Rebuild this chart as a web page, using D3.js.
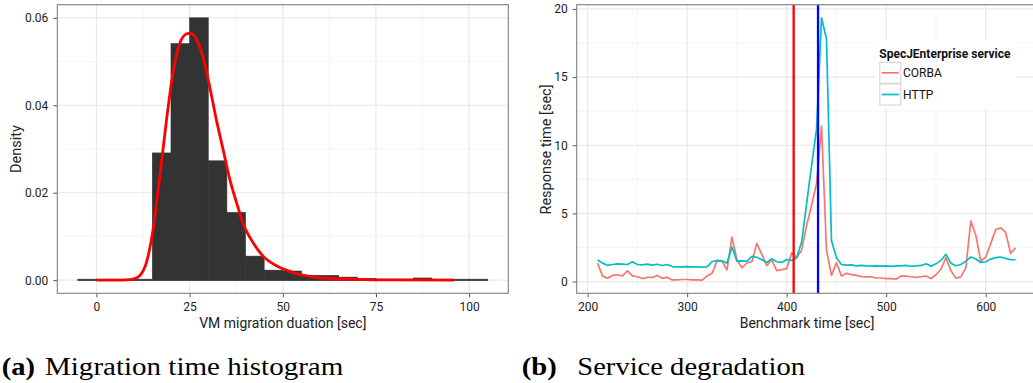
<!DOCTYPE html>
<html>
<head>
<meta charset="utf-8">
<script src="https://cdnjs.cloudflare.com/ajax/libs/d3/7.8.5/d3.min.js"></script>
<style>
  html, body { margin: 0; padding: 0; background: #fff; }
  svg { display: block; }
  .tick text { fill: #222; }
</style>
</head>
<body>
<script>
// ---------- (a) migration time histogram ----------
const binStarts = [-5, 0, 5, 10, 15, 20, 25, 30, 35, 40, 45, 50, 55, 60, 65, 70, 75, 80, 85, 90, 95, 100];
const binDensity = [0, 0, 0, 0, 0.0291, 0.0541, 0.0600, 0.0273, 0.0155, 0.0055, 0.0023, 0.0021,
                    0.0011, 0.0011, 0.0007, 0.0004, 0.0002, 0.0002, 0.0005, 0.0002, 0.0002, 0];
const binWidth = 5;

// fitted density curve, sampled along the duration axis
const fitX = [0, 5, 8, 10, 11.6, 13.4, 15.2, 17, 18.8, 20.5, 22.3, 24.1, 25.2, 26.8, 28.6, 30.4,
              32.2, 34, 35.8, 37.6, 39.3, 42, 44.7, 48.3, 51.9, 55, 60.4, 69.3, 80, 96];
const fitY = [0, 0, 0.00005, 0.0003, 0.001, 0.004, 0.0116, 0.0237, 0.0366, 0.0472, 0.054, 0.0563,
              0.0565, 0.0552, 0.051, 0.0442, 0.0366, 0.0298, 0.023, 0.0177, 0.0131, 0.0086, 0.0055,
              0.0033, 0.002, 0.0012, 0.0005, 0.0002, 0.00005, 0];

const histXTicks = [0, 25, 50, 75, 100];
const histXMinor = [12.5, 37.5, 62.5, 87.5];
const histYTicks = [0, 0.02, 0.04, 0.06];
const histYMinor = [0.01, 0.03, 0.05];

// ---------- (b) service degradation ----------
const benchTime = [210, 215, 220, 225, 230, 235, 240, 245, 250, 255, 260, 265, 270, 275, 280, 285,
  290, 295, 300, 305, 310, 315, 320, 325, 330, 335, 340, 345, 350, 355, 360, 365, 370, 375, 380,
  385, 390, 395, 400, 405, 410, 415, 420, 425, 430, 435, 440, 445, 450, 455, 460, 465, 470, 475,
  480, 485, 490, 495, 500, 505, 510, 515, 520, 525, 530, 535, 540, 545, 550, 555, 560, 565, 570,
  575, 580, 585, 590, 595, 600, 605, 610, 615, 620, 625, 630];
const corba = [1.34, 0.40, 0.25, 0.45, 0.50, 0.42, 0.78, 0.42, 0.35, 0.22, 0.30, 0.30, 0.45, 0.25,
  0.30, 0.12, 0.12, 0.15, 0.15, 0.12, 0.12, 0.10, 0.40, 0.60, 1.50, 1.50, 0.85, 3.26, 1.60, 1.00,
  1.36, 1.45, 2.80, 2.00, 1.17, 1.58, 0.80, 0.88, 0.95, 2.10, 1.75, 2.30, 4.10, 5.60, 7.20, 11.40,
  2.30, 0.45, 1.39, 0.41, 0.60, 0.51, 0.45, 0.36, 0.34, 0.34, 0.26, 0.26, 0.22, 0.22, 0.18, 0.40,
  0.40, 0.35, 0.30, 0.35, 0.40, 0.22, 0.50, 0.90, 1.75, 0.80, 0.25, 0.34, 1.00, 4.45, 3.40, 1.50,
  1.80, 2.78, 3.82, 3.94, 3.60, 2.07, 2.48];
const http = [1.58, 1.35, 1.19, 1.25, 1.30, 1.28, 1.25, 1.45, 1.25, 1.22, 1.28, 1.20, 1.27, 1.18,
  1.25, 1.10, 1.07, 1.08, 1.10, 1.07, 1.08, 1.06, 1.07, 1.45, 1.55, 1.52, 1.35, 2.53, 1.50, 1.52,
  1.48, 1.85, 1.78, 1.60, 1.40, 1.68, 1.45, 1.40, 1.62, 1.55, 1.75, 2.90, 5.70, 8.50, 11.20, 19.35,
  17.80, 3.00, 1.75, 1.25, 1.20, 1.22, 1.15, 1.18, 1.15, 1.13, 1.15, 1.13, 1.15, 1.12, 1.15, 1.15,
  1.18, 1.12, 1.15, 1.18, 1.30, 1.13, 1.30, 1.55, 2.00, 1.35, 1.16, 1.25, 1.50, 1.80, 1.65, 1.40,
  1.45, 1.65, 1.75, 1.80, 1.70, 1.60, 1.60];
const serviceNames = ["CORBA", "HTTP"];
const serviceColors = ["#F8766D", "#00BFC4"];
const migrationMarks = [407, 431.5];
const markColors = ["#FF0000", "#0000FF"];

const benchXTicks = [200, 300, 400, 500, 600];
const benchXMinor = [250, 350, 450, 550, 650];
const benchYTicks = [0, 5, 10, 15, 20];
const benchYMinor = [2.5, 7.5, 12.5, 17.5];

const FONT = "Roboto, 'Liberation Sans', Arial, sans-serif";
const SERIF = "'Liberation Serif', 'DejaVu Serif', serif";

const svg = d3.select("body").append("svg")
  .attr("width", 1033).attr("height", 383)
  .style("font-family", FONT);

// ggplot-style domain expansion (5% on each side)
function expand(lo, hi) {
  const pad = (hi - lo) * 0.05;
  return [lo - pad, hi + pad];
}

function panel(opts) {
  const { x, y, left, right, top, bottom, xTicks, xMinor, yTicks, yMinor, yFormat, id } = opts;
  const g = svg.append("g");
  g.append("clipPath").attr("id", id).append("rect")
    .attr("x", left).attr("y", top).attr("width", right - left).attr("height", bottom - top);
  g.append("rect").attr("x", left).attr("y", top).attr("width", right - left)
    .attr("height", bottom - top).attr("fill", "#fff");
  const grid = g.append("g").attr("clip-path", `url(#${id})`);
  grid.selectAll(".vminor").data(xMinor).join("line")
    .attr("x1", d => x(d)).attr("x2", d => x(d)).attr("y1", top).attr("y2", bottom)
    .attr("stroke", "#F5F5F5").attr("stroke-width", 1);
  grid.selectAll(".hminor").data(yMinor).join("line")
    .attr("y1", d => y(d)).attr("y2", d => y(d)).attr("x1", left).attr("x2", right)
    .attr("stroke", "#F5F5F5").attr("stroke-width", 1);
  grid.selectAll(".vmajor").data(xTicks).join("line")
    .attr("x1", d => x(d)).attr("x2", d => x(d)).attr("y1", top).attr("y2", bottom)
    .attr("stroke", "#E8E8E8").attr("stroke-width", 1.2);
  grid.selectAll(".hmajor").data(yTicks).join("line")
    .attr("y1", d => y(d)).attr("y2", d => y(d)).attr("x1", left).attr("x2", right)
    .attr("stroke", "#E8E8E8").attr("stroke-width", 1.2);

  const xa = g.append("g").attr("transform", `translate(0,${bottom})`)
    .call(d3.axisBottom(x).tickValues(xTicks).tickSize(4).tickPadding(5.5).tickSizeOuter(0));
  const ya = g.append("g").attr("transform", `translate(${left},0)`)
    .call(d3.axisLeft(y).tickValues(yTicks).tickFormat(yFormat).tickSize(4).tickPadding(5).tickSizeOuter(0));
  [xa, ya].forEach(a => {
    a.select(".domain").remove();
    a.selectAll(".tick line").attr("stroke", "#555");
    a.selectAll(".tick text").style("font-size", "12px").style("font-family", FONT);
  });
  const plot = g.append("g").attr("clip-path", `url(#${id})`);
  const border = () => g.append("rect").attr("x", left).attr("y", top)
    .attr("width", right - left).attr("height", bottom - top)
    .attr("fill", "none").attr("stroke", "#7F7F7F").attr("stroke-width", 1.1);
  return { g, plot, border };
}

// ----- panel (a) -----
const hx = d3.scaleLinear().domain(expand(binStarts[0], binStarts[binStarts.length - 1] + binWidth))
  .range([57.3, 508.3]);
const hy = d3.scaleLinear().domain(expand(0, d3.max(binDensity))).range([293.3, 4.7]);
const pa = panel({ x: hx, y: hy, left: 57.3, right: 508.3, top: 4.7, bottom: 293.3,
  xTicks: histXTicks, xMinor: histXMinor, yTicks: histYTicks, yMinor: histYMinor,
  yFormat: d3.format(".2f"), id: "clipA" });

pa.plot.selectAll("rect.bar").data(binStarts).join("rect").attr("class", "bar")
  .attr("x", d => hx(d))
  .attr("width", d => hx(d + binWidth) - hx(d))
  .attr("y", (d, i) => Math.min(hy(binDensity[i]), hy(0) - 1))
  .attr("height", (d, i) => Math.max(hy(0) - hy(binDensity[i]), 1) + 0.5)
  .attr("fill", "#333333").attr("stroke", "#333333").attr("stroke-width", 0.6);

pa.plot.append("path")
  .datum(fitX.map((v, i) => [v, fitY[i]]))
  .attr("fill", "none").attr("stroke", "#FF0000").attr("stroke-width", 2.8)
  .attr("stroke-linejoin", "round")
  .attr("d", d3.line().x(d => hx(d[0])).y(d => hy(d[1])).curve(d3.curveMonotoneX));
pa.border();

svg.append("text").attr("x", 282.8).attr("y", 327.5).attr("text-anchor", "middle")
  .style("font-size", "14px").attr("fill", "#222").text("VM migration duation [sec]");
svg.append("text").attr("transform", "translate(20.7,149) rotate(-90)").attr("text-anchor", "middle")
  .style("font-size", "14.5px").attr("fill", "#222").text("Density");

// ----- panel (b) -----
const bx = d3.scaleLinear().domain(expand(d3.min(benchTime), d3.max(benchTime))).range([576.7, 1036.5]);
const allVals = corba.concat(http);
const by = d3.scaleLinear().domain(expand(d3.min(allVals), d3.max(allVals))).range([293.3, 4.7]);
const pb = panel({ x: bx, y: by, left: 576.7, right: 1036.5, top: 4.7, bottom: 293.3,
  xTicks: benchXTicks, xMinor: benchXMinor, yTicks: benchYTicks, yMinor: benchYMinor,
  yFormat: d3.format("d"), id: "clipB" });

const series = [corba, http];
const line = d3.line().x((d, i) => bx(benchTime[i])).y(d => by(d));
series.forEach((vals, k) => {
  pb.plot.append("path").datum(vals)
    .attr("fill", "none").attr("stroke", serviceColors[k]).attr("stroke-width", 1.7)
    .attr("stroke-linejoin", "round").attr("d", line);
});
pb.plot.selectAll("line.mark").data(migrationMarks).join("line").attr("class", "mark")
  .attr("x1", d => bx(d)).attr("x2", d => bx(d)).attr("y1", 4.7).attr("y2", 293.3)
  .attr("stroke", (d, i) => markColors[i]).attr("stroke-width", 2.3);

// legend
const lg = pb.g.append("g");
lg.append("rect").attr("x", 875).attr("y", 40).attr("width", 141.7).attr("height", 68).attr("fill", "#fff");
lg.append("text").attr("x", 879.3).attr("y", 57.5).style("font-size", "12px").style("font-weight", "bold")
  .attr("fill", "#111").text("SpecJEnterprise service");
serviceNames.forEach((name, i) => {
  const ky = 62.3 + i * 21.7;
  lg.append("rect").attr("x", 879.8).attr("y", ky).attr("width", 21).attr("height", 21)
    .attr("fill", "#fff").attr("stroke", "#D0D0D0").attr("stroke-width", 1);
  lg.append("line").attr("x1", 881.7).attr("x2", 898.8).attr("y1", ky + 10.5).attr("y2", ky + 10.5)
    .attr("stroke", serviceColors[i]).attr("stroke-width", 1.7);
  lg.append("text").attr("x", 903).attr("y", ky + 15).style("font-size", "12px")
    .attr("fill", "#111").text(name);
});
pb.border();

svg.append("text").attr("x", 807).attr("y", 327.5).attr("text-anchor", "middle")
  .style("font-size", "14px").attr("fill", "#222").text("Benchmark time [sec]");
svg.append("text").attr("transform", "translate(550.7,149.5) rotate(-90)").attr("text-anchor", "middle")
  .style("font-size", "14.5px").attr("fill", "#222").text("Response time [sec]");

// ----- sub-figure captions -----
function caption(x, tag, tagWidth, bodyX, bodyWidth, body) {
  svg.append("text").attr("x", x).attr("y", 375).style("font-family", SERIF)
    .style("font-size", "26px").style("font-weight", "bold").attr("fill", "#000")
    .attr("textLength", tagWidth).attr("lengthAdjust", "spacingAndGlyphs").text(tag);
  svg.append("text").attr("x", bodyX).attr("y", 375).style("font-family", SERIF)
    .style("font-size", "26px").attr("fill", "#000")
    .attr("textLength", bodyWidth).attr("lengthAdjust", "spacingAndGlyphs").text(body);
}
caption(1.7, "(a)", 33.3, 45, 298.3, "Migration time histogram");
caption(521.7, "(b)", 35, 577.3, 227.7, "Service degradation");
</script>
</body>
</html>
